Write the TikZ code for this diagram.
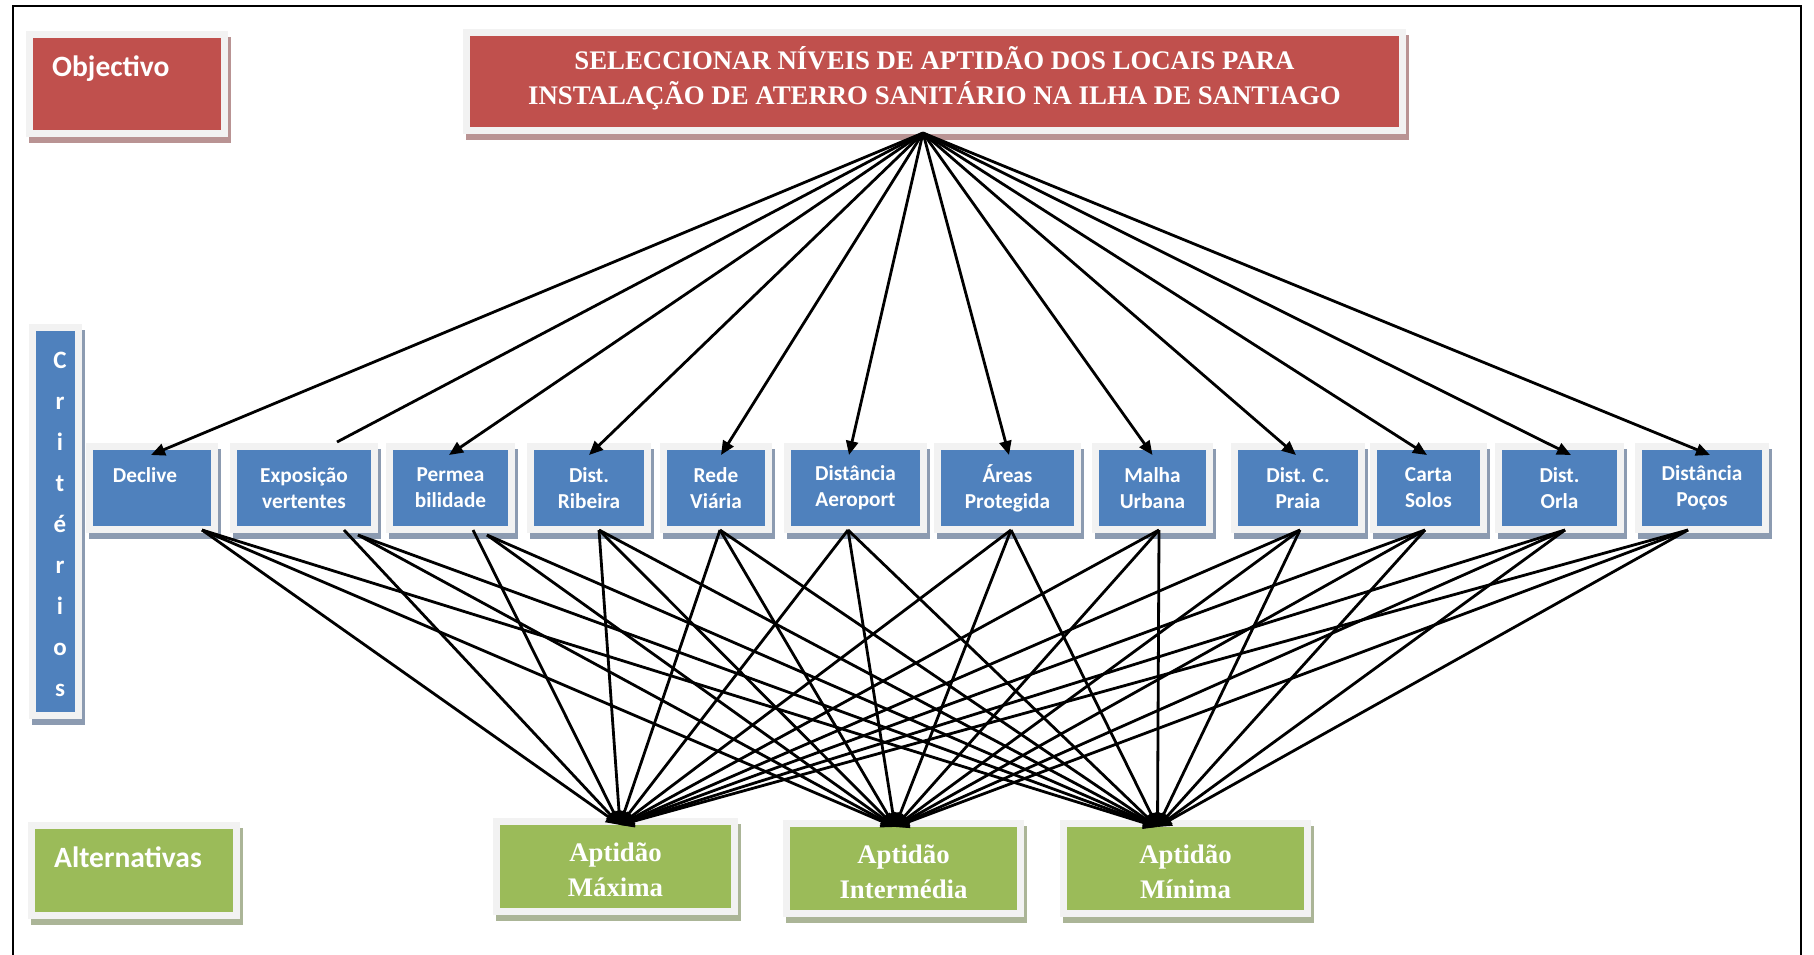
\documentclass[tikz,border=0pt]{standalone}
\usepackage{fontspec}
\setmainfont{Liberation Serif}
\newfontfamily\calfont{Carlito}
\usetikzlibrary{arrows.meta}

\definecolor{objred}{HTML}{C0504D}
\definecolor{critblue}{HTML}{4F81BD}
\definecolor{altgreen}{HTML}{9BBB59}
\definecolor{framegray}{HTML}{F2F2F2}
\definecolor{redshade}{HTML}{B99393}
\definecolor{blueshade}{HTML}{8C9BB1}
\definecolor{greenshade}{HTML}{ABB597}

\tikzset{
  panel/.style 2 args={fill=#1, outer sep=0pt, inner sep=0pt, text=white,
    preaction={draw=#2, fill=#2, line width=14pt, transform canvas={shift={(3pt,-6pt)}}},
    preaction={draw=framegray, fill=framegray, line width=14pt}},
  redpanel/.style={panel={objred}{redshade}},
  bluepanel/.style={panel={critblue}{blueshade}},
  greenpanel/.style={panel={altgreen}{greenshade}},
  headfont/.style={font=\calfont\bfseries\fontsize{29.5}{34}\selectfont},
  headtext/.style={headfont, text=white, inner sep=0pt, anchor=base west},
  crit/.style={bluepanel, minimum height=76pt, align=center,
    font=\calfont\bfseries\fontsize{21.3}{26}\selectfont},
  alt/.style={greenpanel, minimum height=83pt, align=center,
    font=\bfseries\fontsize{26.8}{35}\selectfont},
  link/.style={line width=2.8pt, black},
  arrowlink/.style={link, -{Triangle[length=14pt,width=12pt]}},
}

\begin{document}
\begin{tikzpicture}[x=1pt, y=-1pt]
\useasboundingbox (0,0) rectangle (1814,955);

% page frame (open at the bottom)
\draw[line width=2.5pt] (13,955) -- (13,6) -- (1801,6) -- (1801,955);

% ---- level headings ----
\node[redpanel, minimum width=188pt, minimum height=92pt] (objbox) at (127,84) {};
\node[headtext] (objtext) at ([xshift=19pt,yshift=-39pt]objbox.north west) {Objectivo};

\node[bluepanel, minimum width=39pt, minimum height=381pt] (critbox) at (55.5,521.5) {};
\node[text=white, inner sep=0pt, align=center,
      font=\calfont\bfseries\fontsize{25}{41}\selectfont]
      (crittext) at ([xshift=4.5pt,yshift=-3pt]critbox.center)
      {C\\r\\i\\t\\é\\r\\i\\o\\s};

\node[greenpanel, minimum width=198pt, minimum height=83pt] (altbox) at (134,870.5) {};
\node[headtext] (alttext) at ([xshift=19pt,yshift=-38pt]altbox.north west) {Alternativas};

% ---- goal ----
\node[redpanel, minimum width=929pt, minimum height=91pt] (title) at (934.5,81.5) {};
\node[text=white, inner sep=0pt, align=center,
      font=\bfseries\fontsize{26.8}{35}\selectfont] (titletext)
      at ([yshift=3pt]title.center)
  {SELECCIONAR NÍVEIS DE APTIDÃO DOS LOCAIS PARA\\
   INSTALAÇÃO DE ATERRO SANITÁRIO NA ILHA DE SANTIAGO};

% ---- criteria ----
\node[crit, minimum width=118pt] (c1)  at (152,488)    {Declive\hspace*{14pt}\\\mbox{}};
\node[crit, minimum width=134pt] (c2)  at (304,488)    {Exposição\\vertentes};
\node[crit, minimum width=115pt] (c3)  at (450.5,488)  {Permea\\bilidade};
\node[crit, minimum width=110pt] (c4)  at (589,488)    {Dist.\\Ribeira};
\node[crit, minimum width=98pt]  (c5)  at (716,488)    {Rede\\Viária};
\node[crit, minimum width=129pt] (c6)  at (855.5,488)  {Distância\\Aeroport};
\node[crit, minimum width=133pt] (c7)  at (1007.5,488) {Áreas\\Protegida};
\node[crit, minimum width=107pt] (c8)  at (1152.5,488) {Malha\\Urbana};
\node[crit, minimum width=120pt] (c9)  at (1298,488)   {Dist. C.\\Praia};
\node[crit, minimum width=103pt] (c10) at (1428.5,488) {Carta\\Solos};
\node[crit, minimum width=115pt] (c11) at (1559.5,488) {Dist.\\Orla};
\node[crit, minimum width=120pt] (c12) at (1702,488)   {Distância\\Poços};

% ---- alternatives ----
\node[alt, minimum width=231pt] (a1) at (615.5,866.5) {};
\node[alt, minimum width=227pt] (a2) at (903.5,868.5) {};
\node[alt, minimum width=237pt] (a3) at (1185.5,868.5) {};
\foreach \a/\txt in {a1/Máxima, a2/Intermédia, a3/Mínima}
  \node[text=white, inner sep=0pt, align=center,
        font=\bfseries\fontsize{26.8}{35}\selectfont] (\a text)
        at ([yshift=-3pt]\a.center) {Aptidão\\\txt};

% meeting points of the connectors
\coordinate (hub) at ([xshift=-11.5pt,yshift=-6pt]title.south);
\coordinate (t1) at ([xshift=4.5pt]a1.north);
\coordinate (t2) at ([xshift=-8.5pt]a2.north);
\coordinate (t3) at ([xshift=-28pt]a3.north);

% goal -> criteria
\foreach \n/\dx in {1/-1, 3/-1.5, 4/0, 5/5, 6/-6.5, 7/1.5, 8/0, 9/-2, 10/-1.5, 11/11.5, 12/8}
  \draw[arrowlink] (hub) -- ([xshift=\dx pt,yshift=-5pt]c\n.north);
\draw[link] (hub) -- ([xshift=33pt,yshift=8pt]c2.north);

% criteria -> alternatives
\foreach \n/\dx in {1/50, 4/10, 5/4, 6/-7.5, 7/3.5, 8/6.5, 9/2, 10/-3.5, 11/5.5, 12/-14}
  \foreach \t in {1,2,3}
    \draw[arrowlink] ([xshift=\dx pt,yshift=-4pt]c\n.south) -- (t\t);
\draw[arrowlink] ([xshift=40pt,yshift=-4pt]c2.south) -- (t1);
\draw[arrowlink] ([xshift=54pt,yshift=-9pt]c2.south) -- (t2);
\draw[arrowlink] ([xshift=54pt,yshift=-9pt]c2.south) -- (t3);
\draw[arrowlink] ([xshift=22.5pt,yshift=-4pt]c3.south) -- (t1);
\draw[arrowlink] ([xshift=36.5pt,yshift=-9pt]c3.south) -- (t2);
\draw[arrowlink] ([xshift=36.5pt,yshift=-9pt]c3.south) -- (t3);
\end{tikzpicture}
\end{document}
